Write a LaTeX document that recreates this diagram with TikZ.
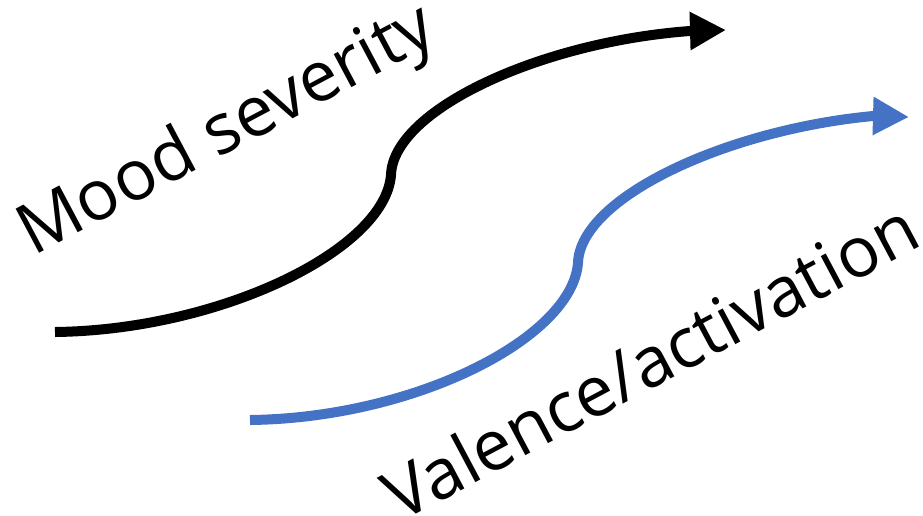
\documentclass[tikz,border=0pt]{standalone}
\usepackage{fontspec}
\setmainfont{Open Sans}
\usetikzlibrary{arrows.meta}
\definecolor{accblue}{HTML}{4472C4}
\tikzset{
  flow/.style={line width=10pt, -{Triangle[length=36pt,width=36pt]}},
  lbl/.style={anchor=base west, rotate=28, inner sep=0pt, font=\fontsize{70}{76}\selectfont}
}
\begin{document}
\begin{tikzpicture}[x=1pt,y=-1pt]
\useasboundingbox (0,0) rectangle (923,515);
% black curve
\coordinate (b0) at (55,332);
\coordinate (bm) at (391,175);
\coordinate (be) at (690,31);
\coordinate (bt) at (726,30);
\draw[flow, black] (b0) .. controls (220,330) and (385,250) .. (bm)
  .. controls (393,110) and (540,42) .. (be) -- (bt);
% blue curve
\coordinate (c0) at (250,420);
\coordinate (cm) at (578,263);
\coordinate (ce) at (873,116);
\coordinate (ct) at (909,117);
\draw[flow, accblue] (c0) .. controls (415,418) and (572,338) .. (cm)
  .. controls (580,198) and (725,130) .. (ce) -- (ct);
% labels
\node[lbl] (mood) at (33,257) {Mood severity};
\node[lbl] (val) at (400,523) {Valence/activation};
\end{tikzpicture}
\end{document}
